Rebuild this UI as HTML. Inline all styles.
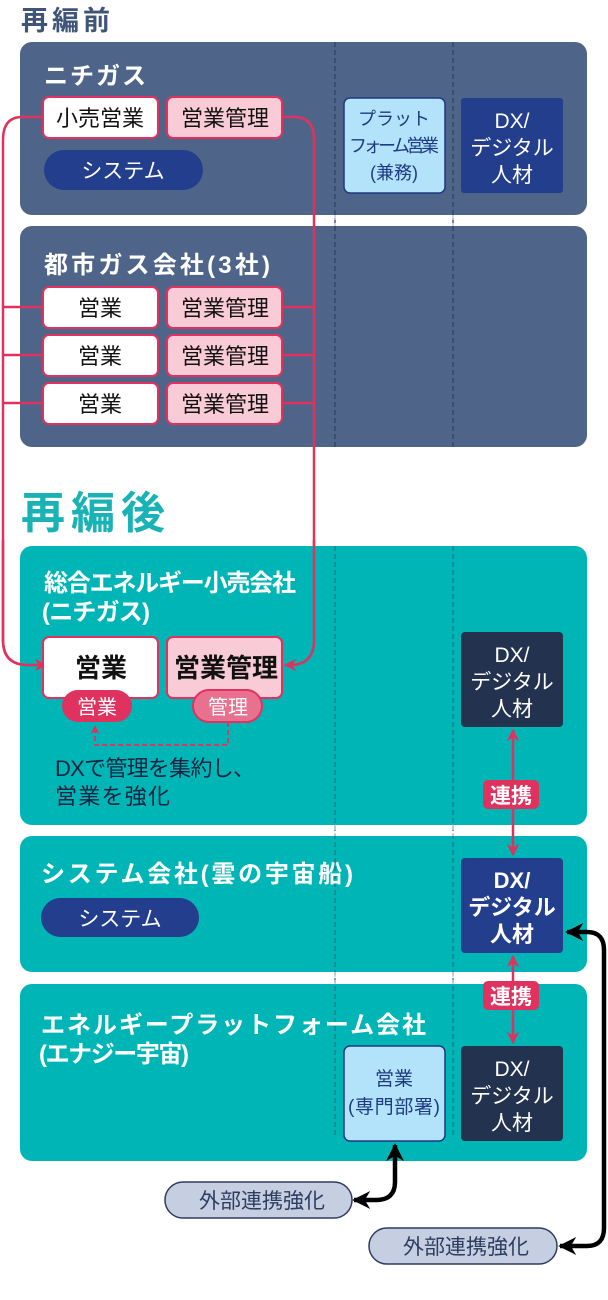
<!DOCTYPE html>
<html><head><meta charset="utf-8"><style>
html,body{margin:0;padding:0;background:#fff}
svg{display:block}
text{font-family:"Liberation Sans","Noto Sans CJK JP",sans-serif}
</style></head><body>
<svg width="608" height="1300" viewBox="0 0 608 1300" xmlns="http://www.w3.org/2000/svg">
<defs>
<marker id="pa" viewBox="0 0 10 10" refX="9" refY="5" markerWidth="5" markerHeight="5" orient="auto-start-reverse"><path d="M0,0L10,5L0,10L3,5z" fill="#e0325e"/></marker>
<marker id="ba" viewBox="0 0 10 10" refX="9" refY="5" markerWidth="4" markerHeight="4" orient="auto-start-reverse"><path d="M0,0L10,5L0,10L3,5z" fill="#000"/></marker>
</defs>
<text x="21" y="30" font-size="27" font-weight="bold" fill="#3f5577" textLength="89">再編前</text>
<rect x="20" y="42" width="567" height="173" rx="12" fill="#4e6589"/>
<rect x="20" y="226" width="567" height="221" rx="12" fill="#4e6589"/>
<g stroke="#2d4466" stroke-width="1.3" stroke-dasharray="5,3"><line x1="335" y1="42" x2="335" y2="447"/><line x1="453" y1="42" x2="453" y2="447"/></g>
<g stroke="#b9c4d6" stroke-width="1.3" stroke-dasharray="5,3"><line x1="335" y1="215" x2="335" y2="226"/><line x1="453" y1="215" x2="453" y2="226"/></g>
<text x="44" y="84" font-size="24" font-weight="bold" fill="#fff" textLength="102">ニチガス</text>
<text x="44" y="273" font-size="24" font-weight="bold" fill="#fff" textLength="226">都市ガス会社(3社)</text>

<g fill="none" stroke="#e0325e" stroke-width="2.5">
<path d="M43,117 H22 Q3,117 3,140 V640 Q3,665 28,665 H46" marker-end="url(#pa)"/>
<path d="M282,117 H295 Q314,117 314,140 V640 Q314,665 290,665 H285" marker-end="url(#pa)"/>
<path d="M3,307H43M3,355H43M3,403H43M282,307H314M282,355H314M282,403H314"/>
</g>

<g stroke="#e0325e" stroke-width="2">
<rect x="43" y="97" width="115" height="41" rx="6" fill="#fff"/>
<rect x="167" y="97" width="115" height="41" rx="6" fill="#f9cbd7"/>
<rect x="43" y="287" width="115" height="41" rx="6" fill="#fff"/>
<rect x="167" y="287" width="115" height="41" rx="6" fill="#f9cbd7"/>
<rect x="43" y="335" width="115" height="41" rx="6" fill="#fff"/>
<rect x="167" y="335" width="115" height="41" rx="6" fill="#f9cbd7"/>
<rect x="43" y="383" width="115" height="41" rx="6" fill="#fff"/>
<rect x="167" y="383" width="115" height="41" rx="6" fill="#f9cbd7"/>
</g>
<g font-size="22" fill="#111" text-anchor="middle">
<text x="100" y="126">小売営業</text><text x="225" y="126">営業管理</text>
<text x="100" y="316">営業</text><text x="225" y="316">営業管理</text>
<text x="100" y="364">営業</text><text x="225" y="364">営業管理</text>
<text x="100" y="412">営業</text><text x="225" y="412">営業管理</text>
</g>
<rect x="44" y="150" width="159" height="40" rx="20" fill="#233e8c"/>
<text x="123" y="178" font-size="21" fill="#fff" text-anchor="middle">システム</text>
<rect x="344" y="98" width="101" height="95" rx="6" fill="#b3e2fb" stroke="#1e3a80" stroke-width="1.5"/>
<g font-size="18" fill="#1e3a80" text-anchor="middle"><text x="394" y="125">プラット</text><text x="394" y="152" textLength="90">フォーム営業</text><text x="394" y="179">(兼務)</text></g>
<rect x="461" y="98" width="102" height="95" rx="3" fill="#233e8c"/>
<g font-size="21" fill="#fff" text-anchor="middle"><text x="512" y="128">DX/</text><text x="512" y="155">デジタル</text><text x="512" y="182">人材</text></g>

<text x="21" y="528" font-size="44" font-weight="bold" fill="#1ab3b5" textLength="144">再編後</text>
<rect x="20" y="546" width="567" height="279" rx="12" fill="#00b5b6"/>
<rect x="20" y="836" width="567" height="136" rx="12" fill="#00b5b6"/>
<rect x="20" y="984" width="567" height="177" rx="12" fill="#00b5b6"/>
<g stroke="#1f7b8a" stroke-width="1.3" stroke-dasharray="5,3"><line x1="335" y1="546" x2="335" y2="1135"/><line x1="453" y1="546" x2="453" y2="1135"/></g>
<g stroke="#b9c4d6" stroke-width="1.3" stroke-dasharray="5,3"><line x1="335" y1="825" x2="335" y2="836"/><line x1="453" y1="825" x2="453" y2="836"/><line x1="335" y1="972" x2="335" y2="984"/><line x1="453" y1="972" x2="453" y2="984"/></g>
<g fill="none" stroke="#e0325e" stroke-width="2.5">
<path d="M3,540 V640 Q3,665 28,665 H46" marker-end="url(#pa)"/>
<path d="M314,540 V640 Q314,665 290,665 H285" marker-end="url(#pa)"/>
</g>
<g font-size="24" font-weight="bold" fill="#fff">
<text x="44" y="591" textLength="252">総合エネルギー小売会社</text><text x="42" y="620" textLength="108">(ニチガス)</text>
<text x="41" y="882" textLength="312">システム会社(雲の宇宙船)</text>
<text x="41" y="1033" textLength="385">エネルギープラットフォーム会社</text><text x="39" y="1062" textLength="150">(エナジー宇宙)</text>
</g>
<rect x="43" y="637" width="115" height="61" rx="6" fill="#fff" stroke="#e0325e" stroke-width="2"/>
<rect x="167" y="637" width="115" height="61" rx="6" fill="#f9cbd7" stroke="#e0325e" stroke-width="2"/>
<g font-size="26" font-weight="bold" fill="#111" text-anchor="middle"><text x="101" y="677">営業</text><text x="226" y="677">営業管理</text></g>
<path d="M228,722 V745 H95 V726" fill="none" stroke="#e0325e" stroke-width="1.8" stroke-dasharray="5,3" marker-end="url(#pa)"/>
<rect x="62" y="690" width="70" height="32" rx="16" fill="#e0325e"/>
<rect x="193" y="690" width="69" height="32" rx="16" fill="#e8718f" stroke="#e0325e" stroke-width="2"/>
<g font-size="20" fill="#fff" text-anchor="middle"><text x="97" y="714">営業</text><text x="228" y="714">管理</text></g>
<g font-size="22" fill="#14233f"><text x="55" y="776" textLength="200">DXで管理を集約し、</text><text x="55" y="804" textLength="115">営業を強化</text></g>

<rect x="461" y="632" width="102" height="95" rx="4" fill="#22324f"/>
<g font-size="21" fill="#fff" text-anchor="middle"><text x="512" y="662">DX/</text><text x="512" y="689">デジタル</text><text x="512" y="716">人材</text></g>
<rect x="461" y="858" width="102" height="95" rx="4" fill="#233e8c"/>
<g font-size="22" font-weight="bold" fill="#fff" text-anchor="middle"><text x="512" y="888">DX/</text><text x="512" y="915">デジタル</text><text x="512" y="942">人材</text></g>
<rect x="461" y="1046" width="102" height="95" rx="4" fill="#22324f"/>
<g font-size="21" fill="#fff" text-anchor="middle"><text x="512" y="1076">DX/</text><text x="512" y="1103">デジタル</text><text x="512" y="1130">人材</text></g>

<g stroke="#e0325e" stroke-width="2.5" fill="none">
<line x1="513" y1="730" x2="513" y2="855" marker-start="url(#pa)" marker-end="url(#pa)"/>
<line x1="513" y1="956" x2="513" y2="1043" marker-start="url(#pa)" marker-end="url(#pa)"/>
</g>
<rect x="483" y="780" width="56" height="29" rx="5" fill="#e0325e"/>
<rect x="483" y="981" width="56" height="29" rx="5" fill="#e0325e"/>
<g font-size="21" font-weight="bold" fill="#fff" text-anchor="middle"><text x="511" y="803">連携</text><text x="511" y="1004">連携</text></g>

<rect x="41" y="898" width="158" height="39" rx="19.5" fill="#233e8c"/>
<text x="120" y="926" font-size="21" fill="#fff" text-anchor="middle">システム</text>

<rect x="344" y="1046" width="101" height="95" rx="6" fill="#b3e2fb" stroke="#1e3a80" stroke-width="1.5"/>
<g font-size="19" fill="#1e3a80" text-anchor="middle"><text x="394" y="1085">営業</text><text x="394" y="1113" textLength="92">(専門部署)</text></g>

<g fill="none" stroke="#000" stroke-width="4.5">
<path d="M395,1145 V1182 Q395,1200 376,1200 H354" marker-start="url(#ba)" marker-end="url(#ba)"/>
<path d="M567,932 H587 Q604,932 604,950 V1228 Q604,1246 587,1246 H560" marker-start="url(#ba)" marker-end="url(#ba)"/>
</g>
<rect x="165" y="1182" width="187" height="36" rx="18" fill="#c6cfe2" stroke="#2d3d60" stroke-width="1.5"/>
<rect x="369" y="1228" width="188" height="36" rx="18" fill="#c6cfe2" stroke="#2d3d60" stroke-width="1.5"/>
<g font-size="21" fill="#2d3d60" text-anchor="middle"><text x="262" y="1208">外部連携強化</text><text x="466" y="1254">外部連携強化</text></g>
</svg>
</body></html>
